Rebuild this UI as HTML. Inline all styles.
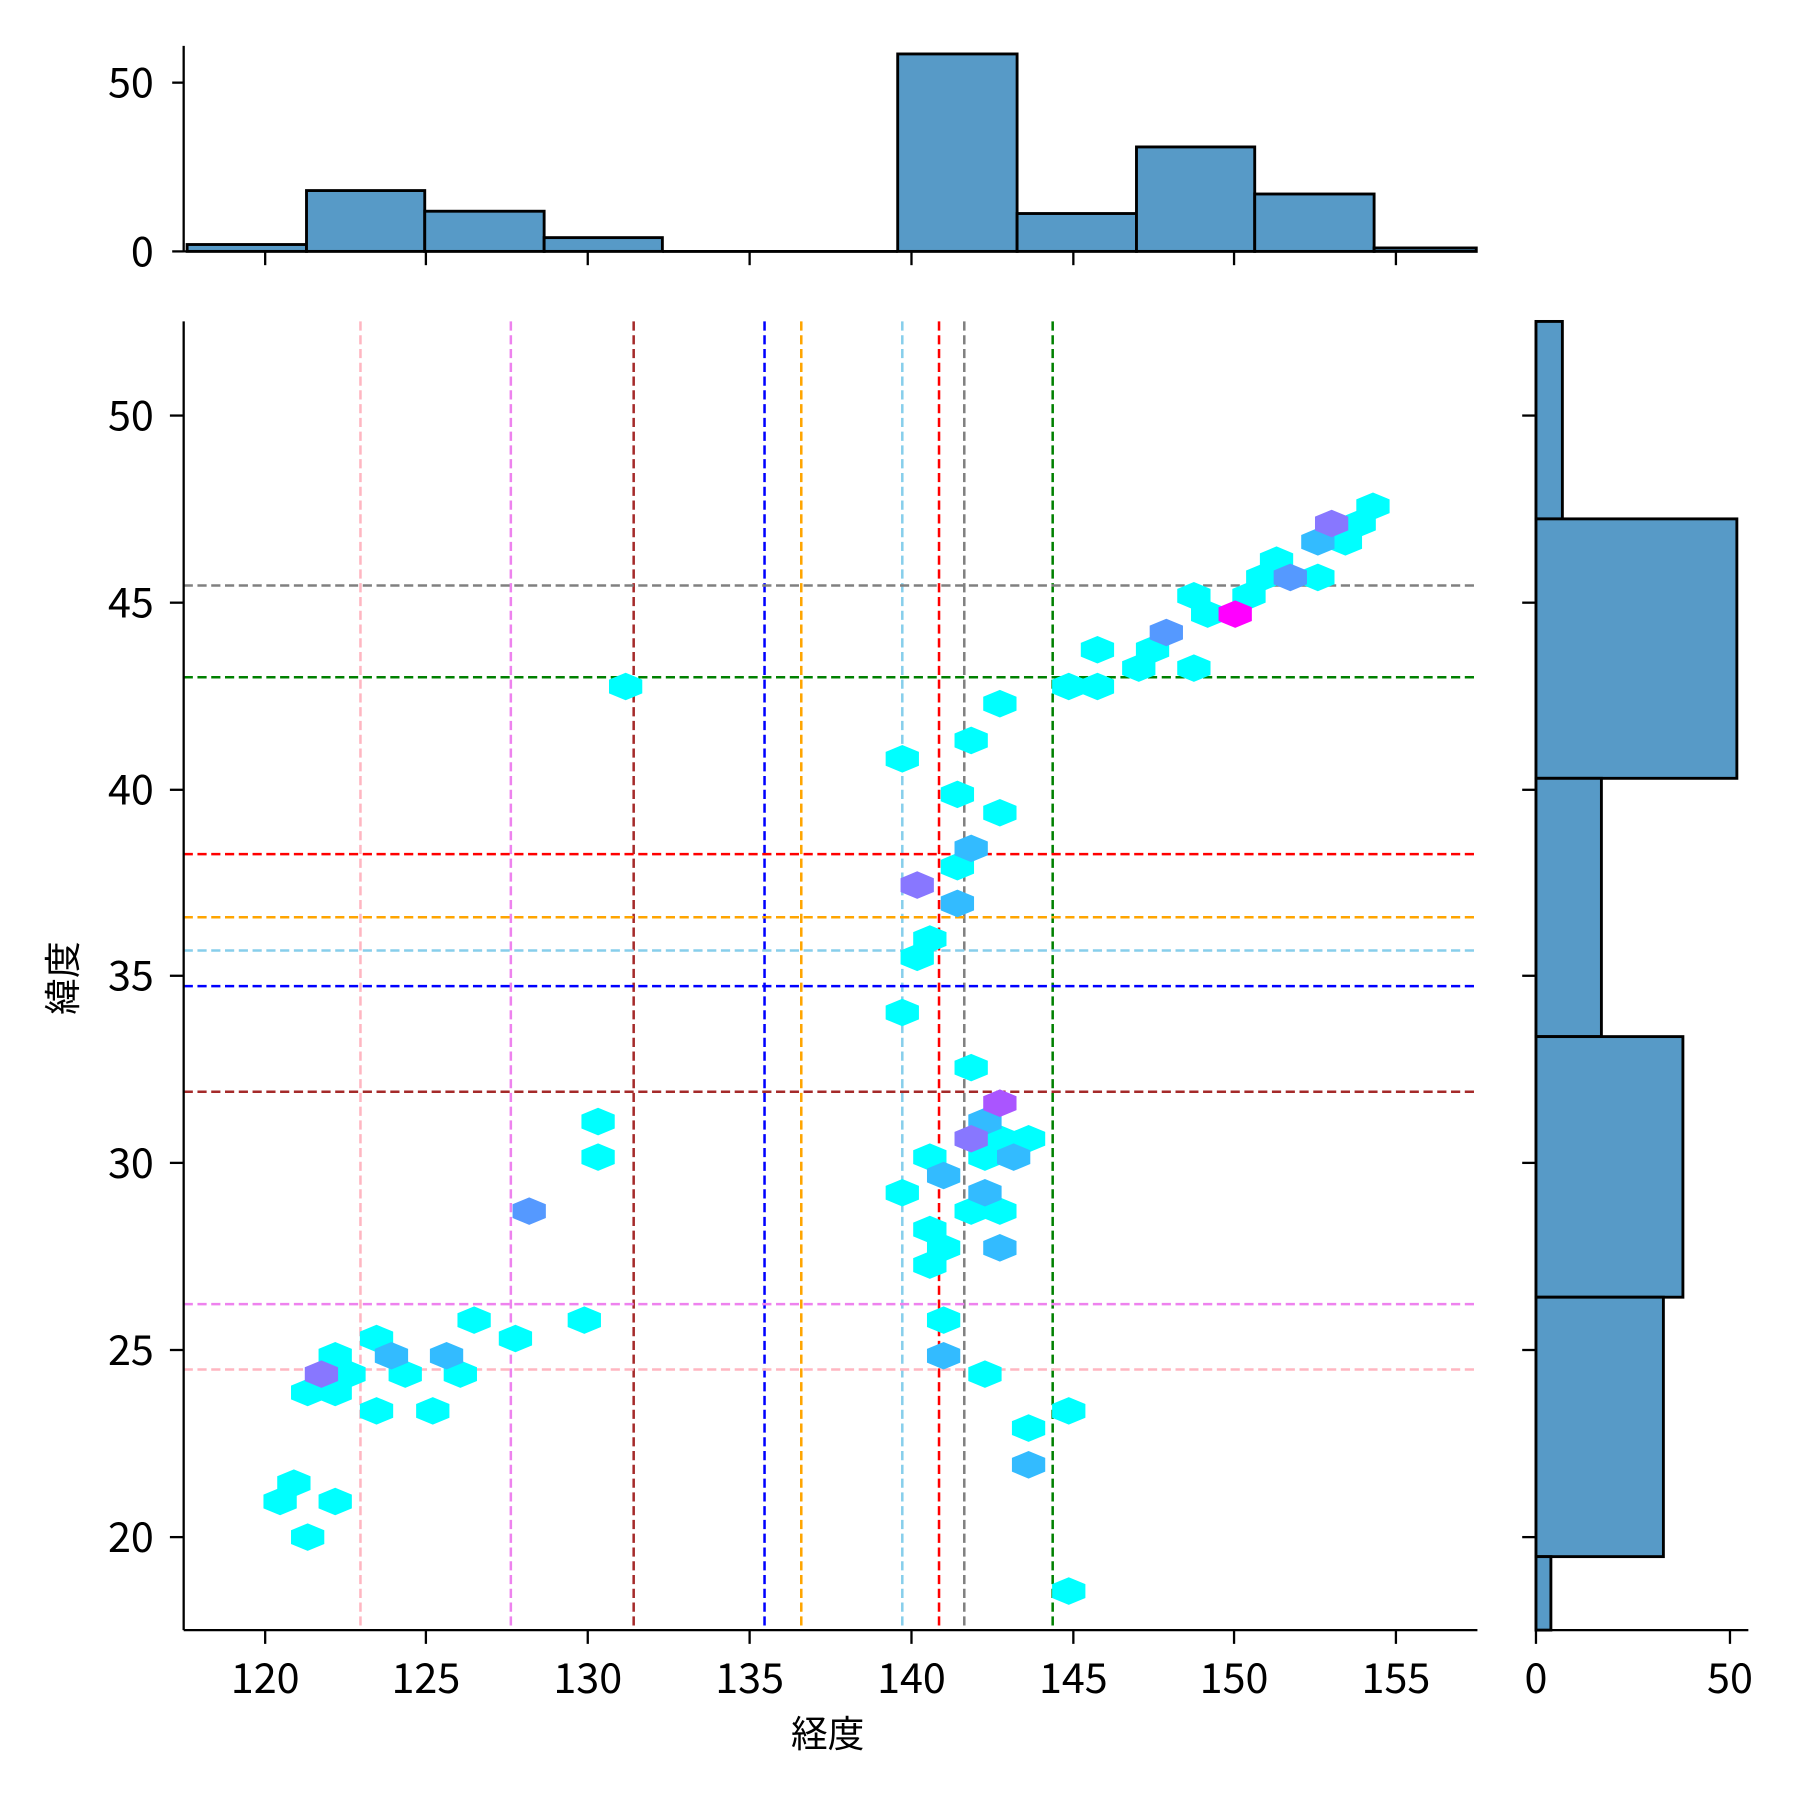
<!DOCTYPE html>
<html><head><meta charset="utf-8"><style>
html,body{margin:0;padding:0;background:#fff}
svg{display:block}
text{font-family:"Noto Sans CJK JP","Liberation Sans",sans-serif;fill:#000}
</style></head><body>
<svg width="1800" height="1800" viewBox="0 0 1568 1568" xmlns="http://www.w3.org/2000/svg">
<defs>
<polygon id="h" points="0,-12 14.5,-6 14.5,6 0,12 -14.5,6 -14.5,-6"/>
</defs>
<g fill="#579ac7" stroke="#000" stroke-width="2.5">
<rect x="163" y="213" width="104" height="6"/>
<rect x="267" y="166" width="103" height="53"/>
<rect x="370" y="184" width="104" height="35"/>
<rect x="474" y="207" width="103" height="12"/>
<rect x="782" y="47" width="104" height="172"/>
<rect x="886" y="186" width="104" height="33"/>
<rect x="990" y="128" width="103" height="91"/>
<rect x="1093" y="169" width="104" height="50"/>
<rect x="1197" y="216" width="89" height="3"/>
</g>
<line x1="577" y1="219" x2="782" y2="219" stroke="#000" stroke-width="2.5"/>
<g stroke="#000" stroke-width="2">
<line x1="160" y1="40" x2="160" y2="220"/>
<line x1="160" y1="219" x2="1287" y2="219"/>
<line x1="150" y1="219" x2="160" y2="219"/><line x1="150" y1="72" x2="160" y2="72"/>
<line x1="231" y1="219" x2="231" y2="231"/><line x1="371" y1="219" x2="371" y2="231"/><line x1="512" y1="219" x2="512" y2="231"/><line x1="653" y1="219" x2="653" y2="231"/><line x1="794" y1="219" x2="794" y2="231"/><line x1="935" y1="219" x2="935" y2="231"/><line x1="1075" y1="219" x2="1075" y2="231"/><line x1="1216" y1="219" x2="1216" y2="231"/>
</g>
<g font-size="36" text-anchor="end">
<text x="134" y="85">50</text><text x="134" y="232">0</text>
</g>
<g fill="#579ac7" stroke="#000" stroke-width="2.5">
<rect x="1338" y="280" width="23" height="172"/>
<rect x="1338" y="452" width="175" height="226"/>
<rect x="1338" y="678" width="57" height="225"/>
<rect x="1338" y="903" width="128" height="227"/>
<rect x="1338" y="1130" width="111" height="226"/>
<rect x="1338" y="1356" width="13" height="64"/>
</g>
<g stroke="#000" stroke-width="2">
<line x1="1338" y1="280" x2="1338" y2="1420"/>
<line x1="1338" y1="1420" x2="1523" y2="1420"/>
<line x1="1338" y1="1420" x2="1338" y2="1432"/><line x1="1507" y1="1420" x2="1507" y2="1432"/>
<line x1="1326" y1="362" x2="1338" y2="362"/><line x1="1326" y1="525" x2="1338" y2="525"/><line x1="1326" y1="688" x2="1338" y2="688"/><line x1="1326" y1="850" x2="1338" y2="850"/><line x1="1326" y1="1013" x2="1338" y2="1013"/><line x1="1326" y1="1176" x2="1338" y2="1176"/><line x1="1326" y1="1339" x2="1338" y2="1339"/>
</g>
<g font-size="36" text-anchor="middle">
<text x="1338" y="1475">0</text><text x="1507" y="1475">50</text>
</g>
<g stroke-width="2.2" stroke-dasharray="8,4">
<line x1="314" y1="280" x2="314" y2="1420" stroke="#ffb6c1"/>
<line x1="445" y1="280" x2="445" y2="1420" stroke="#ee82ee"/>
<line x1="552" y1="280" x2="552" y2="1420" stroke="#a52a2a"/>
<line x1="666" y1="280" x2="666" y2="1420" stroke="#0000ff"/>
<line x1="698" y1="280" x2="698" y2="1420" stroke="#ffa500"/>
<line x1="786" y1="280" x2="786" y2="1420" stroke="#87ceeb"/>
<line x1="818" y1="280" x2="818" y2="1420" stroke="#ff0000"/>
<line x1="840" y1="280" x2="840" y2="1420" stroke="#808080"/>
<line x1="917" y1="280" x2="917" y2="1420" stroke="#008000"/>
<line x1="160" y1="510" x2="1287" y2="510" stroke="#808080"/>
<line x1="160" y1="590" x2="1287" y2="590" stroke="#008000"/>
<line x1="160" y1="744" x2="1287" y2="744" stroke="#ff0000"/>
<line x1="160" y1="799" x2="1287" y2="799" stroke="#ffa500"/>
<line x1="160" y1="828" x2="1287" y2="828" stroke="#87ceeb"/>
<line x1="160" y1="859" x2="1287" y2="859" stroke="#0000ff"/>
<line x1="160" y1="951" x2="1287" y2="951" stroke="#a52a2a"/>
<line x1="160" y1="1136" x2="1287" y2="1136" stroke="#ee82ee"/>
<line x1="160" y1="1193" x2="1287" y2="1193" stroke="#ffb6c1"/>
</g>
<g fill="#00ffff">
<use href="#h" x="545" y="598"/><use href="#h" x="786" y="661"/><use href="#h" x="846" y="645"/><use href="#h" x="871" y="613"/><use href="#h" x="834" y="692"/><use href="#h" x="871" y="708"/><use href="#h" x="834" y="755"/><use href="#h" x="810" y="818"/><use href="#h" x="799" y="834"/><use href="#h" x="786" y="882"/><use href="#h" x="846" y="930"/><use href="#h" x="871" y="992"/><use href="#h" x="896" y="992"/><use href="#h" x="858" y="1008"/><use href="#h" x="810" y="1008"/><use href="#h" x="786" y="1039"/><use href="#h" x="846" y="1055"/><use href="#h" x="871" y="1055"/><use href="#h" x="810" y="1071"/><use href="#h" x="822" y="1087"/><use href="#h" x="810" y="1102"/><use href="#h" x="822" y="1150"/><use href="#h" x="858" y="1197"/><use href="#h" x="896" y="1244"/><use href="#h" x="931" y="1229"/><use href="#h" x="931" y="1386"/>
<use href="#h" x="521" y="977"/><use href="#h" x="521" y="1008"/><use href="#h" x="509" y="1150"/><use href="#h" x="449" y="1166"/><use href="#h" x="413" y="1150"/><use href="#h" x="328" y="1166"/><use href="#h" x="353" y="1197"/><use href="#h" x="401" y="1197"/><use href="#h" x="377" y="1229"/><use href="#h" x="328" y="1229"/><use href="#h" x="292" y="1181"/><use href="#h" x="304" y="1197"/><use href="#h" x="268" y="1213"/><use href="#h" x="292" y="1213"/><use href="#h" x="256" y="1292"/><use href="#h" x="244" y="1308"/><use href="#h" x="292" y="1308"/><use href="#h" x="268" y="1339"/>
<use href="#h" x="931" y="598"/><use href="#h" x="956" y="598"/><use href="#h" x="956" y="566"/><use href="#h" x="992" y="582"/><use href="#h" x="1004" y="566"/><use href="#h" x="1040" y="582"/><use href="#h" x="1040" y="519"/><use href="#h" x="1052" y="535"/><use href="#h" x="1088" y="519"/><use href="#h" x="1100" y="503"/><use href="#h" x="1112" y="488"/><use href="#h" x="1148" y="503"/><use href="#h" x="1172" y="472"/><use href="#h" x="1184" y="456"/><use href="#h" x="1196" y="441"/>
</g>
<g fill="#33bbff">
<use href="#h" x="846" y="739"/><use href="#h" x="834" y="787"/><use href="#h" x="858" y="977"/><use href="#h" x="883" y="1008"/><use href="#h" x="822" y="1024"/><use href="#h" x="858" y="1039"/><use href="#h" x="871" y="1087"/><use href="#h" x="822" y="1181"/><use href="#h" x="896" y="1276"/><use href="#h" x="341" y="1181"/><use href="#h" x="389" y="1181"/><use href="#h" x="1148" y="472"/>
</g>
<g fill="#5599ff"><use href="#h" x="461" y="1055"/><use href="#h" x="1016" y="551"/><use href="#h" x="1124" y="503"/></g>
<g fill="#8877ff"><use href="#h" x="799" y="771"/><use href="#h" x="846" y="992"/><use href="#h" x="280" y="1197"/><use href="#h" x="1160" y="456"/></g>
<g fill="#aa55ff"><use href="#h" x="871" y="961"/></g>
<g fill="#ff00ff"><use href="#h" x="1076" y="535"/></g>
<g stroke="#000" stroke-width="2">
<line x1="160" y1="280" x2="160" y2="1420"/>
<line x1="160" y1="1420" x2="1287" y2="1420"/>
<line x1="231" y1="1420" x2="231" y2="1432"/><line x1="371" y1="1420" x2="371" y2="1432"/><line x1="512" y1="1420" x2="512" y2="1432"/><line x1="653" y1="1420" x2="653" y2="1432"/><line x1="794" y1="1420" x2="794" y2="1432"/><line x1="935" y1="1420" x2="935" y2="1432"/><line x1="1075" y1="1420" x2="1075" y2="1432"/><line x1="1216" y1="1420" x2="1216" y2="1432"/>
<line x1="148" y1="362" x2="160" y2="362"/><line x1="148" y1="525" x2="160" y2="525"/><line x1="148" y1="688" x2="160" y2="688"/><line x1="148" y1="850" x2="160" y2="850"/><line x1="148" y1="1013" x2="160" y2="1013"/><line x1="148" y1="1176" x2="160" y2="1176"/><line x1="148" y1="1339" x2="160" y2="1339"/>
</g>
<g font-size="36" text-anchor="middle">
<text x="231" y="1475">120</text><text x="371" y="1475">125</text><text x="512" y="1475">130</text><text x="653" y="1475">135</text><text x="794" y="1475">140</text><text x="935" y="1475">145</text><text x="1075" y="1475">150</text><text x="1216" y="1475">155</text>
</g>
<g font-size="36" text-anchor="end">
<text x="134" y="375">50</text><text x="134" y="538">45</text><text x="134" y="701">40</text><text x="134" y="863">35</text><text x="134" y="1026">30</text><text x="134" y="1189">25</text><text x="134" y="1352">20</text>
</g>
<text x="721" y="1522" font-size="32" text-anchor="middle">経度</text>
<text transform="translate(66,852) rotate(-90)" font-size="32" text-anchor="middle">緯度</text>
</svg>
</body></html>
